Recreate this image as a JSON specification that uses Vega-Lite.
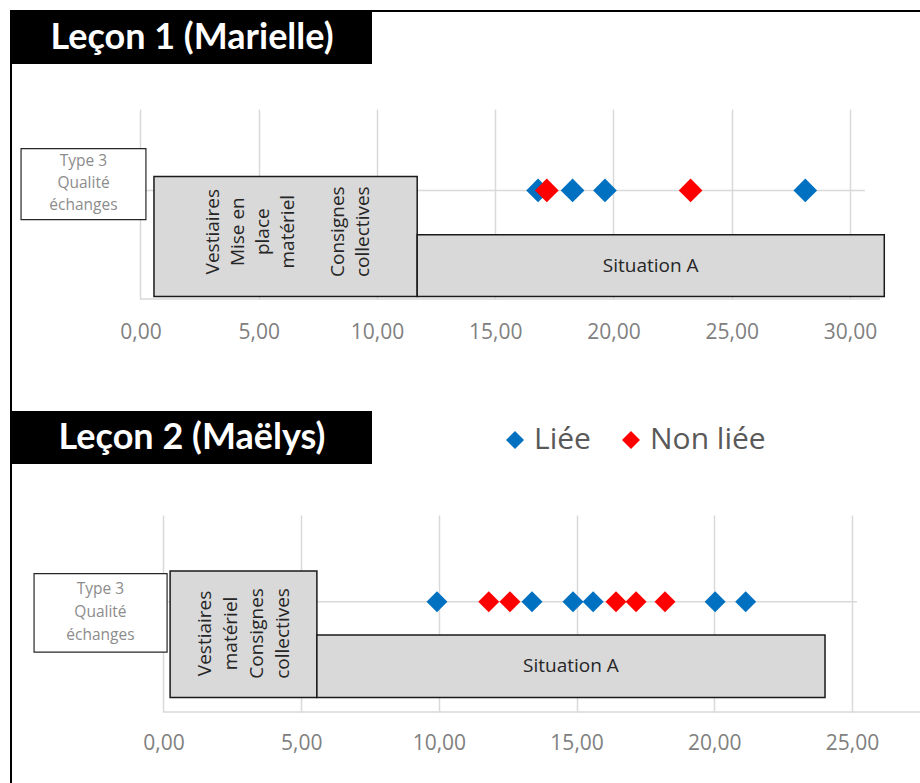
{
  "$schema": "https://vega.github.io/schema/vega-lite/v6.json",
  "background": "white",
  "padding": {"left": 10, "top": 10, "right": 0, "bottom": 0},
  "config": {"view": {"stroke": null}, "font": "Open Sans"},
  "datasets": {
    "cadre": [{"cadre": "bordure"}],
    "titre1": [{"titre": "Leçon 1 (Marielle)"}],
    "titre2": [{"titre": "Leçon 2 (Maëlys)"}],
    "type3": [{"type": 3, "libelle": "Type 3\nQualité\néchanges"}],
    "lecon1_points": [
      {"t": 16.81, "type": 3, "liaison": "Liée"},
      {"t": 17.18, "type": 3, "liaison": "Non liée"},
      {"t": 18.27, "type": 3, "liaison": "Liée"},
      {"t": 19.64, "type": 3, "liaison": "Liée"},
      {"t": 23.26, "type": 3, "liaison": "Non liée"},
      {"t": 28.11, "type": 3, "liaison": "Liée"}
    ],
    "lecon2_points": [
      {"t": 9.93, "type": 3, "liaison": "Liée"},
      {"t": 11.81, "type": 3, "liaison": "Non liée"},
      {"t": 12.58, "type": 3, "liaison": "Non liée"},
      {"t": 13.38, "type": 3, "liaison": "Liée"},
      {"t": 14.87, "type": 3, "liaison": "Liée"},
      {"t": 15.6, "type": 3, "liaison": "Liée"},
      {"t": 16.43, "type": 3, "liaison": "Non liée"},
      {"t": 17.16, "type": 3, "liaison": "Non liée"},
      {"t": 18.21, "type": 3, "liaison": "Non liée"},
      {"t": 20.03, "type": 3, "liaison": "Liée"},
      {"t": 21.14, "type": 3, "liaison": "Liée"}
    ],
    "lecon1_phases": [
      {"phase": "org", "bloc": "vestiaires", "label": "Vestiaires\nMise en\nplace\nmatériel", "t": 0.57},
      {"phase": "org", "bloc": "vestiaires", "label": "Vestiaires\nMise en\nplace\nmatériel", "t": 11.7},
      {"phase": "org", "bloc": "consignes", "label": "Consignes\ncollectives", "t": 0.57},
      {"phase": "org", "bloc": "consignes", "label": "Consignes\ncollectives", "t": 11.7},
      {"phase": "situation", "bloc": "situation", "label": "Situation A", "t": 11.7},
      {"phase": "situation", "bloc": "situation", "label": "Situation A", "t": 31.45}
    ],
    "lecon2_phases": [
      {"phase": "org", "label": "Vestiaires\nmatériel\nConsignes\ncollectives", "t": 0.24},
      {"phase": "org", "label": "Vestiaires\nmatériel\nConsignes\ncollectives", "t": 5.57},
      {"phase": "situation", "label": "Situation A", "t": 5.57},
      {"phase": "situation", "label": "Situation A", "t": 24.02}
    ]
  },
  "resolve": {"scale": {"x": "independent", "y": "independent"}},
  "vconcat": [
    {
      "width": 910, "height": 2,
      "data": {"name": "cadre"},
      "mark": {"type": "rect", "color": "black"},
      "encoding": {}
    },
    {
      "resolve": {"scale": {"x": "independent", "y": "independent"}},
      "hconcat": [
        {
          "width": 2, "height": 771,
          "data": {"name": "cadre"},
          "mark": {"type": "rect", "color": "black"},
          "encoding": {}
        },
        {
          "resolve": {"scale": {"x": "independent", "y": "independent"}},
          "vconcat": [
            {
              "width": 360, "height": 52,
              "data": {"name": "titre1"},
              "layer": [
                {"mark": {"type": "rect", "color": "black"}, "encoding": {}},
                {
                  "mark": {"type": "text", "color": "white", "font": "Lato", "fontWeight": "bold", "fontSize": 36, "baseline": "middle", "align": "center"},
                  "encoding": {"text": {"field": "titre", "type": "nominal"}}
                }
              ]
            },
            {
              "width": 908, "height": 45,
              "data": {"name": "cadre"},
              "mark": {"type": "rect", "fillOpacity": 0},
              "encoding": {}
            },
            {
              "width": 908, "height": 190,
              "layer": [
                {
                  "data": {"name": "type3"},
                  "mark": {"type": "rule", "color": "#d9d9d9", "strokeWidth": 1.5},
                  "encoding": {
                    "y": {"field": "type", "type": "quantitative", "scale": {"domain": [0, 5.25], "nice": false, "zero": false}, "axis": null},
                    "x": {"datum": 0, "type": "quantitative", "scale": {"domain": [-5.433, 32.96], "nice": false, "zero": false},
                      "axis": {"values": [0, 5, 10, 15, 20, 25, 30], "labelExpr": "replace(format(datum.value, '.2f'), '.', ',')", "grid": true, "gridColor": "#d9d9d9", "gridWidth": 1.5, "domain": false, "ticks": false, "labelFont": "Open Sans", "labelFontSize": 21, "labelColor": "#808080", "labelPadding": 22, "title": null, "labelFlush": false}},
                    "x2": {"datum": 30.63}
                  }
                },
                {
                  "data": {"name": "type3"},
                  "mark": {"type": "rule", "color": "#d9d9d9", "strokeWidth": 1.5},
                  "encoding": {"y": {"datum": 0}, "x": {"datum": 0}, "x2": {"datum": 31.27}}
                },
                {
                  "data": {"name": "type3"},
                  "mark": {"type": "rect", "fill": "white", "stroke": "#262626", "strokeWidth": 1.2},
                  "encoding": {"x": {"datum": -5.05}, "x2": {"datum": 0.23}, "y": {"datum": 4.153}, "y2": {"datum": 2.191}}
                },
                {
                  "data": {"name": "type3"},
                  "mark": {"type": "text", "color": "#8c8c8c", "fontSize": 15.5, "lineHeight": 22, "lineBreak": "\n", "align": "center", "baseline": "middle"},
                  "encoding": {"x": {"datum": -2.41}, "y": {"datum": 3.8}, "text": {"field": "libelle", "type": "nominal"}}
                },
                {
                  "data": {"name": "lecon1_phases"},
                  "transform": [{"filter": "datum.phase === 'org'"}],
                  "mark": {"type": "rect", "fill": "#d9d9d9", "stroke": "#1a1a1a", "strokeWidth": 1.5},
                  "encoding": {
                    "x": {"aggregate": "min", "field": "t", "type": "quantitative"},
                    "x2": {"aggregate": "max", "field": "t"},
                    "detail": {"field": "phase", "type": "nominal"},
                    "y": {"datum": 3.388}, "y2": {"datum": 0.072}
                  }
                },
                {
                  "data": {"name": "lecon1_phases"},
                  "transform": [{"filter": "datum.phase === 'situation'"}],
                  "mark": {"type": "rect", "fill": "#d9d9d9", "stroke": "#1a1a1a", "strokeWidth": 1.5},
                  "encoding": {
                    "x": {"aggregate": "min", "field": "t", "type": "quantitative"},
                    "x2": {"aggregate": "max", "field": "t"},
                    "detail": {"field": "phase", "type": "nominal"},
                    "y": {"datum": 1.777}, "y2": {"datum": 0.072}
                  }
                },
                {
                  "data": {"name": "lecon1_phases"},
                  "transform": [{"filter": "datum.bloc === 'vestiaires'"}],
                  "mark": {"type": "text", "color": "#262626", "fontSize": 19, "lineHeight": 25, "lineBreak": "\n", "angle": 270, "align": "center", "baseline": "middle", "dy": -73},
                  "encoding": {
                    "x": {"aggregate": "mean", "field": "t", "type": "quantitative"},
                    "y": {"datum": 1.86},
                    "text": {"field": "label", "type": "nominal"}
                  }
                },
                {
                  "data": {"name": "lecon1_phases"},
                  "transform": [{"filter": "datum.bloc === 'consignes'"}],
                  "mark": {"type": "text", "color": "#262626", "fontSize": 19, "lineHeight": 25, "lineBreak": "\n", "angle": 270, "align": "center", "baseline": "middle", "dy": 52},
                  "encoding": {
                    "x": {"aggregate": "mean", "field": "t", "type": "quantitative"},
                    "y": {"datum": 1.86},
                    "text": {"field": "label", "type": "nominal"}
                  }
                },
                {
                  "data": {"name": "lecon1_phases"},
                  "transform": [{"filter": "datum.phase === 'situation'"}],
                  "mark": {"type": "text", "color": "#262626", "fontSize": 19, "align": "center", "baseline": "middle"},
                  "encoding": {
                    "x": {"aggregate": "mean", "field": "t", "type": "quantitative"},
                    "y": {"datum": 0.925},
                    "text": {"field": "label", "type": "nominal"}
                  }
                },
                {
                  "data": {"name": "lecon1_points"},
                  "mark": {"type": "point", "shape": "diamond", "filled": true, "opacity": 1, "size": 560, "strokeWidth": 0},
                  "encoding": {
                    "x": {"field": "t", "type": "quantitative"},
                    "y": {"field": "type", "type": "quantitative"},
                    "color": {"field": "liaison", "type": "nominal", "scale": {"domain": ["Liée", "Non liée"], "range": ["#0070C0", "#FF0000"]},
                      "legend": {"title": null, "orient": "none", "direction": "horizontal", "legendX": 490, "legendY": 415, "symbolType": "diamond", "symbolSize": 324, "symbolStrokeWidth": 0, "labelFont": "Open Sans", "labelFontSize": 30, "labelColor": "#595959", "labelOffset": 4, "columnPadding": 25}}
                  }
                }
              ]
            },
            {
              "width": 908, "height": 112,
              "data": {"name": "cadre"},
              "mark": {"type": "rect", "fillOpacity": 0},
              "encoding": {}
            },
            {
              "width": 360, "height": 53,
              "data": {"name": "titre2"},
              "layer": [
                {"mark": {"type": "rect", "color": "black"}, "encoding": {}},
                {
                  "mark": {"type": "text", "color": "white", "font": "Lato", "fontWeight": "bold", "fontSize": 36, "baseline": "middle", "align": "center"},
                  "encoding": {"text": {"field": "titre", "type": "nominal"}}
                }
              ]
            },
            {
              "width": 908, "height": 51,
              "data": {"name": "cadre"},
              "mark": {"type": "rect", "fillOpacity": 0},
              "encoding": {}
            },
            {
              "width": 908, "height": 197,
              "layer": [
                {
                  "data": {"name": "type3"},
                  "mark": {"type": "rule", "color": "#d9d9d9", "strokeWidth": 1.5},
                  "encoding": {
                    "y": {"field": "type", "type": "quantitative", "scale": {"domain": [0, 5.366], "nice": false, "zero": false}, "axis": null},
                    "x": {"datum": 0, "type": "quantitative", "scale": {"domain": [-5.501, 27.469], "nice": false, "zero": false},
                      "axis": {"values": [0, 5, 10, 15, 20, 25], "labelExpr": "replace(format(datum.value, '.2f'), '.', ',')", "grid": true, "gridColor": "#d9d9d9", "gridWidth": 1.5, "domain": false, "ticks": false, "labelFont": "Open Sans", "labelFontSize": 21, "labelColor": "#808080", "labelPadding": 20, "title": null, "labelFlush": false}},
                    "x2": {"datum": 25.18}
                  }
                },
                {
                  "data": {"name": "type3"},
                  "mark": {"type": "rule", "color": "#d9d9d9", "strokeWidth": 1.5},
                  "encoding": {"y": {"datum": 0}, "x": {"datum": 0}, "x2": {"datum": 27.47}}
                },
                {
                  "data": {"name": "type3"},
                  "mark": {"type": "rect", "fill": "white", "stroke": "#262626", "strokeWidth": 1.2},
                  "encoding": {"x": {"datum": -4.7}, "x2": {"datum": 0.13}, "y": {"datum": 3.769}, "y2": {"datum": 1.632}}
                },
                {
                  "data": {"name": "type3"},
                  "mark": {"type": "text", "color": "#8c8c8c", "fontSize": 15.5, "lineHeight": 23, "lineBreak": "\n", "align": "center", "baseline": "middle"},
                  "encoding": {"x": {"datum": -2.29}, "y": {"datum": 3.345}, "text": {"field": "libelle", "type": "nominal"}}
                },
                {
                  "data": {"name": "lecon2_phases"},
                  "transform": [{"filter": "datum.phase === 'org'"}],
                  "mark": {"type": "rect", "fill": "#d9d9d9", "stroke": "#1a1a1a", "strokeWidth": 1.5},
                  "encoding": {
                    "x": {"aggregate": "min", "field": "t", "type": "quantitative"},
                    "x2": {"aggregate": "max", "field": "t"},
                    "detail": {"field": "label", "type": "nominal"},
                    "y": {"datum": 3.843}, "y2": {"datum": 0.397}
                  }
                },
                {
                  "data": {"name": "lecon2_phases"},
                  "transform": [{"filter": "datum.phase === 'situation'"}],
                  "mark": {"type": "rect", "fill": "#d9d9d9", "stroke": "#1a1a1a", "strokeWidth": 1.5},
                  "encoding": {
                    "x": {"aggregate": "min", "field": "t", "type": "quantitative"},
                    "x2": {"aggregate": "max", "field": "t"},
                    "detail": {"field": "label", "type": "nominal"},
                    "y": {"datum": 2.094}, "y2": {"datum": 0.397}
                  }
                },
                {
                  "data": {"name": "lecon2_phases"},
                  "transform": [{"filter": "datum.phase === 'org'"}],
                  "mark": {"type": "text", "color": "#262626", "fontSize": 19, "lineHeight": 26, "lineBreak": "\n", "angle": 270, "align": "center", "baseline": "middle", "dy": -39},
                  "encoding": {
                    "x": {"aggregate": "mean", "field": "t", "type": "quantitative"},
                    "y": {"datum": 2.14},
                    "text": {"field": "label", "type": "nominal"}
                  }
                },
                {
                  "data": {"name": "lecon2_phases"},
                  "transform": [{"filter": "datum.phase === 'situation'"}],
                  "mark": {"type": "text", "color": "#262626", "fontSize": 19, "align": "center", "baseline": "middle"},
                  "encoding": {
                    "x": {"aggregate": "mean", "field": "t", "type": "quantitative"},
                    "y": {"datum": 1.24},
                    "text": {"field": "label", "type": "nominal"}
                  }
                },
                {
                  "data": {"name": "lecon2_points"},
                  "mark": {"type": "point", "shape": "diamond", "filled": true, "opacity": 1, "size": 440, "strokeWidth": 0},
                  "encoding": {
                    "x": {"field": "t", "type": "quantitative"},
                    "y": {"field": "type", "type": "quantitative"},
                    "color": {"field": "liaison", "type": "nominal", "scale": {"domain": ["Liée", "Non liée"], "range": ["#0070C0", "#FF0000"]},
                      "legend": {"title": null, "orient": "none", "direction": "horizontal", "legendX": 490, "legendY": 415, "symbolType": "diamond", "symbolSize": 324, "symbolStrokeWidth": 0, "labelFont": "Open Sans", "labelFontSize": 30, "labelColor": "#595959", "labelOffset": 4, "columnPadding": 25}}
                  }
                }
              ]
            }
          ],
          "spacing": 0,
          "bounds": "flush"
        }
      ],
      "spacing": 0,
      "bounds": "flush"
    }
  ],
  "spacing": 0,
  "bounds": "flush"
}
